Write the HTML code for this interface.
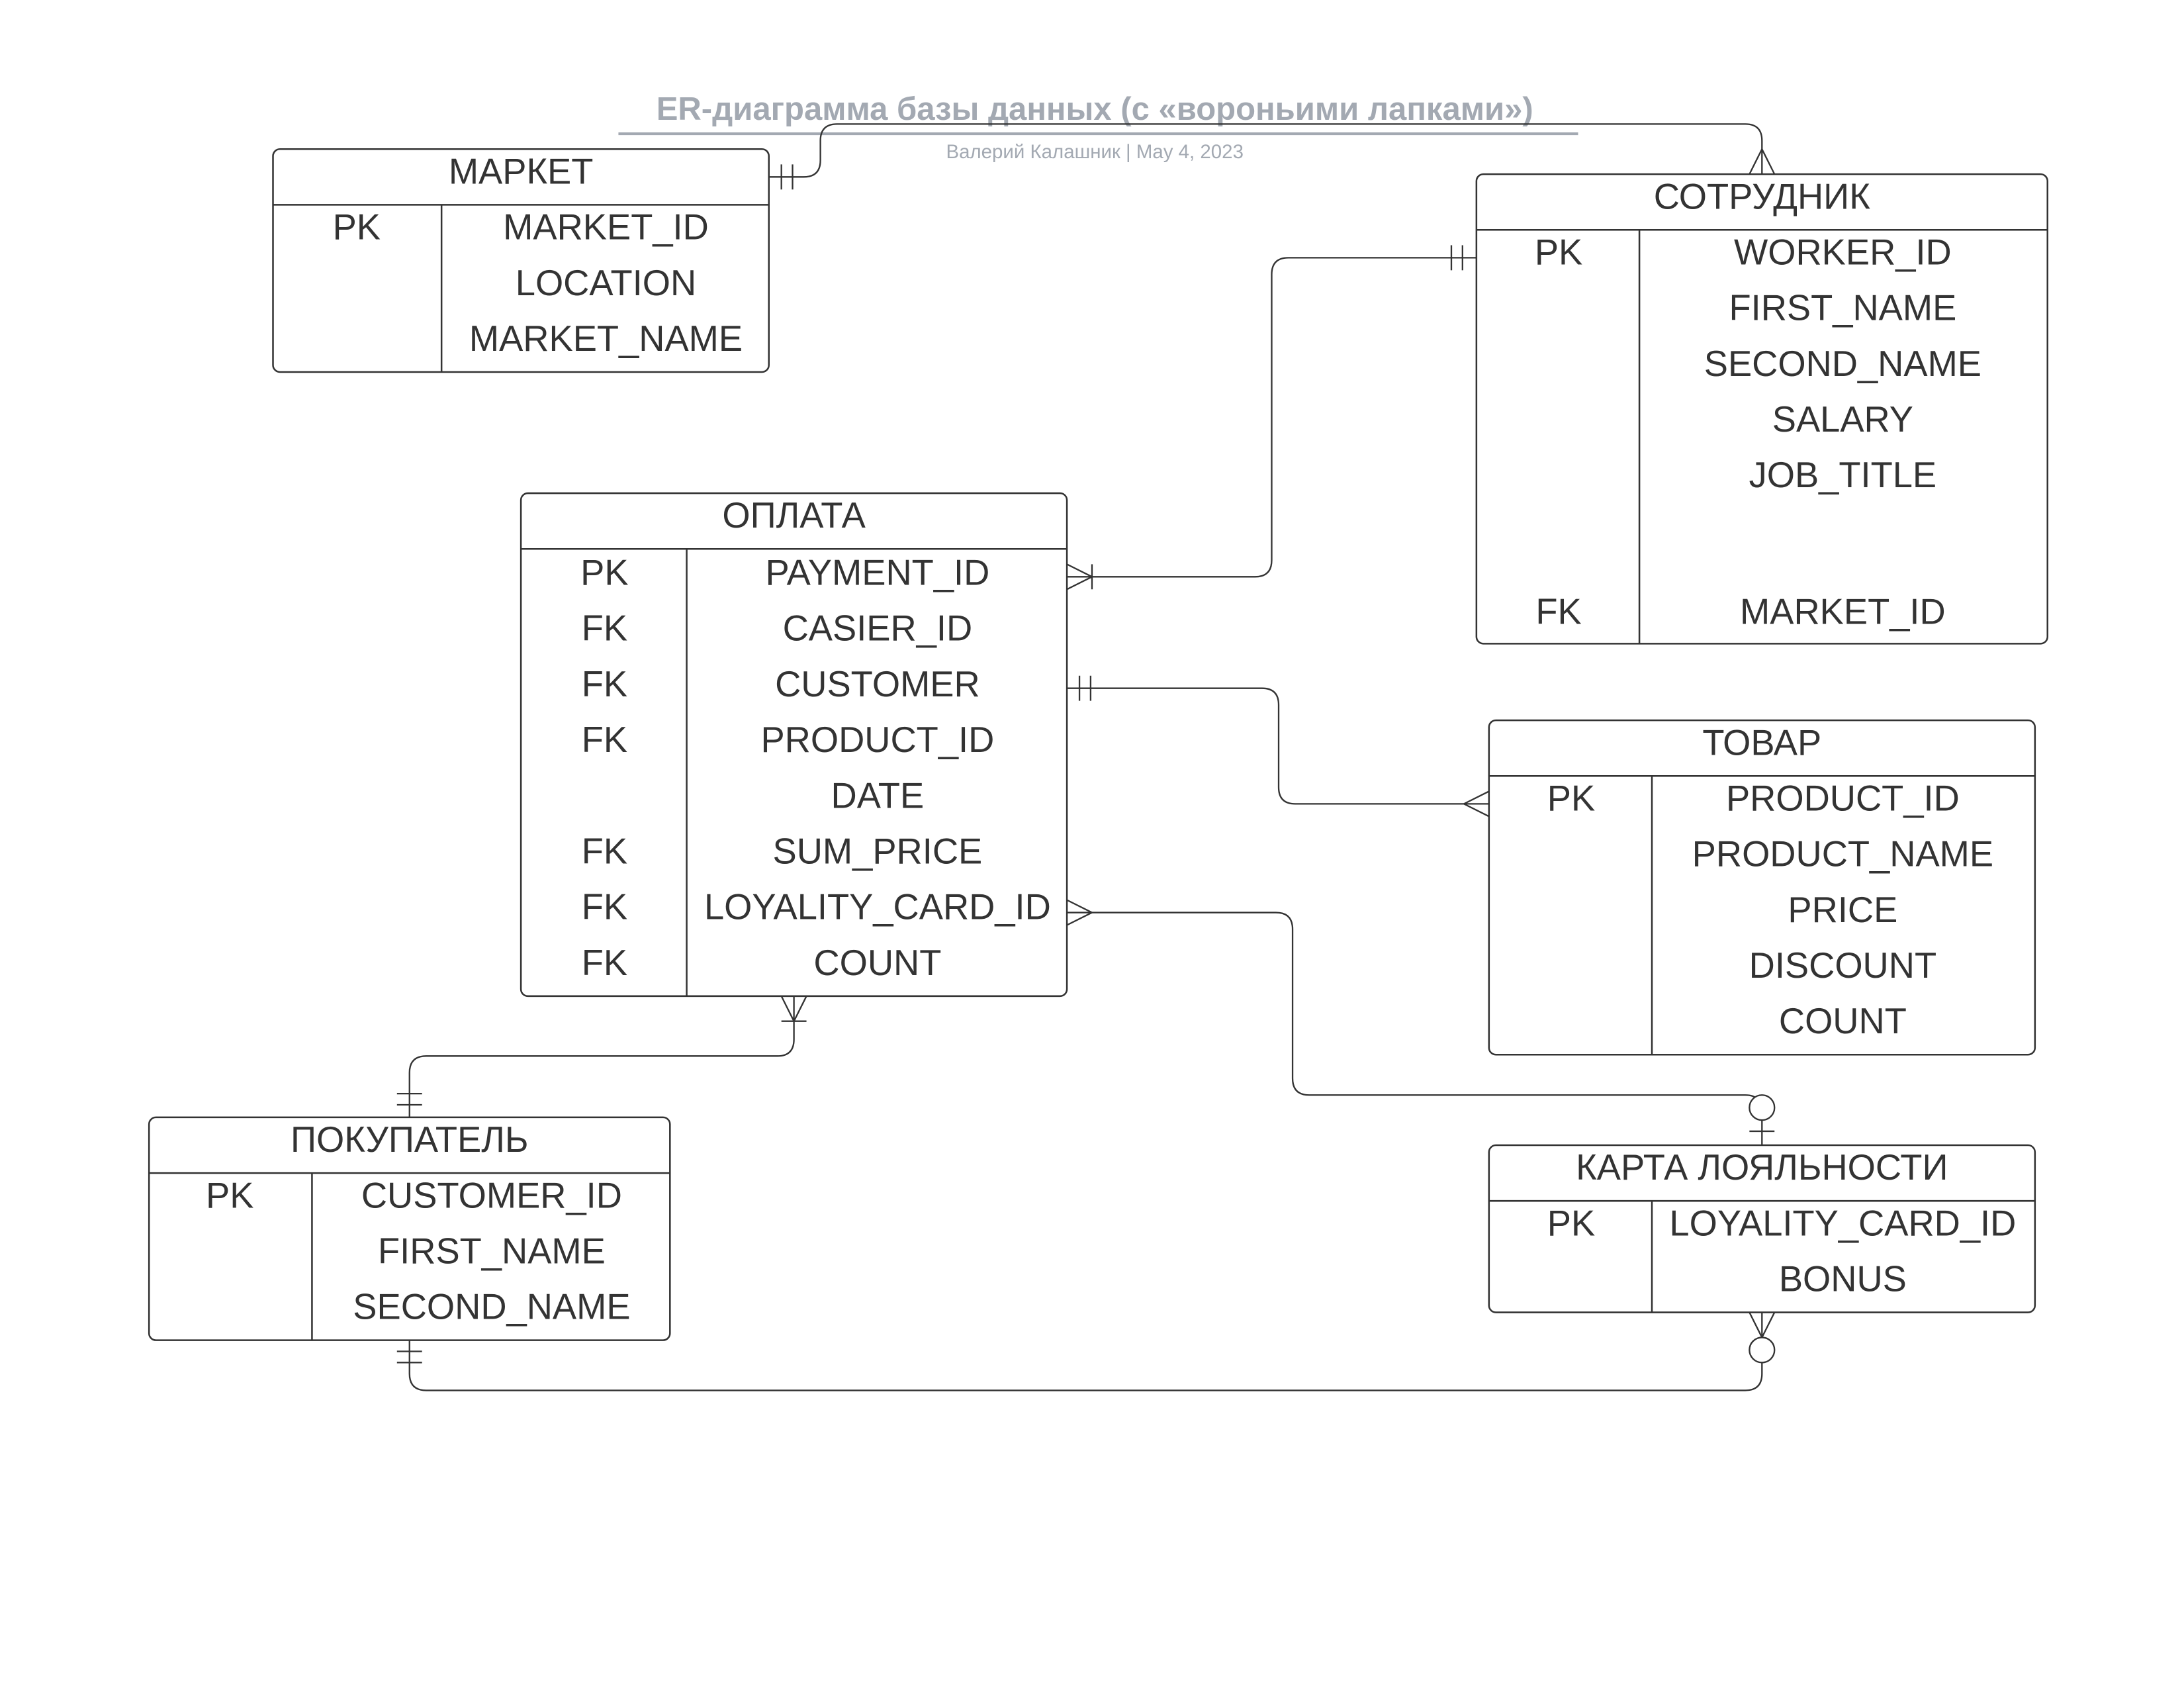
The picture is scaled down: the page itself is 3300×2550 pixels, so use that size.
<!DOCTYPE html>
<html><head><meta charset="utf-8"><style>
html,body{margin:0;padding:0;background:#fff;}
svg{display:block;}
text{font-family:"Liberation Sans","DejaVu Sans",sans-serif;}
.t{font-size:25.8px;fill:#333;text-anchor:middle;dominant-baseline:central;}
.box{fill:none;stroke:#333;stroke-width:1.2;}
.ln{fill:none;stroke:#333;stroke-width:1.1;}
</style></head><body>
<svg width="3300" height="2550" viewBox="0 0 1568 1211.6" xmlns="http://www.w3.org/2000/svg">
<rect x="0" y="0" width="1568" height="1211.6" fill="#fff"/>
<text x="786" y="78.5" font-size="23.3" font-weight="bold" fill="#a3a9b2" text-anchor="middle" dominant-baseline="central">ER-диаграмма базы данных (с «вороньими лапками»)</text>
<line x1="444" y1="96" x2="1133" y2="96" stroke="#a3a9b2" stroke-width="2"/>
<text x="786" y="109" font-size="14" fill="#a3a9b2" text-anchor="middle" dominant-baseline="central">Валерий Калашник  |  May 4, 2023</text>

<g class="ln">
<path d="M552 127 H577 Q589 127 589 115 V101 Q589 89 601 89 H1253 Q1265 89 1265 101 V125"/>
<line x1="561" y1="118" x2="561" y2="136"/><line x1="569" y1="118" x2="569" y2="136"/>
<line x1="1265" y1="107" x2="1256" y2="125"/><line x1="1265" y1="107" x2="1274" y2="125"/>

<path d="M766 414 H901 Q913 414 913 402 V197 Q913 185 925 185 H1060"/>
<line x1="1042" y1="176" x2="1042" y2="194"/><line x1="1050" y1="176" x2="1050" y2="194"/>
<line x1="784" y1="414" x2="766" y2="405"/><line x1="784" y1="414" x2="766" y2="423"/><line x1="784" y1="405" x2="784" y2="423"/>

<path d="M766 494 H906 Q918 494 918 506 V565 Q918 577 930 577 H1069"/>
<line x1="775" y1="485" x2="775" y2="503"/><line x1="783" y1="485" x2="783" y2="503"/>
<line x1="1051" y1="577" x2="1069" y2="568"/><line x1="1051" y1="577" x2="1069" y2="586"/>

<path d="M766 655 H916 Q928 655 928 667 V774 Q928 786 940 786 H1253 Q1265 786 1265 798 V822"/>
<line x1="784" y1="655" x2="766" y2="646"/><line x1="784" y1="655" x2="766" y2="664"/>
<circle cx="1265" cy="795" r="9" fill="#fff"/>
<line x1="1256" y1="812" x2="1274" y2="812"/>

<path d="M570 715 V746 Q570 758 558 758 H306 Q294 758 294 770 V802"/>
<line x1="570" y1="733" x2="561" y2="715"/><line x1="570" y1="733" x2="579" y2="715"/><line x1="561" y1="733" x2="579" y2="733"/>
<line x1="285" y1="785" x2="303" y2="785"/><line x1="285" y1="793" x2="303" y2="793"/>

<path d="M294 962 V986 Q294 998 306 998 H1253 Q1265 998 1265 986 V942"/>
<line x1="285" y1="970" x2="303" y2="970"/><line x1="285" y1="978" x2="303" y2="978"/>
<line x1="1265" y1="960" x2="1256" y2="942"/><line x1="1265" y1="960" x2="1274" y2="942"/>
<circle cx="1265" cy="969" r="9" fill="#fff"/>
</g>

<rect class="box" x="196" y="107" width="356" height="160" rx="5" fill="#fff"/>
<line class="box" x1="196" y1="147" x2="552" y2="147"/><line class="box" x1="317" y1="147" x2="317" y2="267"/>
<text class="t" x="374" y="123">МАРКЕТ</text>
<text class="t" x="256" y="163">PK</text>
<text class="t" x="435" y="163">MARKET_ID</text>
<text class="t" x="435" y="203">LOCATION</text>
<text class="t" x="435" y="243">MARKET_NAME</text>

<rect class="box" x="1060" y="125" width="410" height="337" rx="5" fill="#fff"/>
<line class="box" x1="1060" y1="165" x2="1470" y2="165"/><line class="box" x1="1177" y1="165" x2="1177" y2="462"/>
<text class="t" x="1265" y="141">СОТРУДНИК</text>
<text class="t" x="1119" y="181">PK</text>
<text class="t" x="1323" y="181">WORKER_ID</text>
<text class="t" x="1323" y="221">FIRST_NAME</text>
<text class="t" x="1323" y="261">SECOND_NAME</text>
<text class="t" x="1323" y="301">SALARY</text>
<text class="t" x="1323" y="341">JOB_TITLE</text>
<text class="t" x="1119" y="439">FK</text>
<text class="t" x="1323" y="439">MARKET_ID</text>

<rect class="box" x="374" y="354" width="392" height="361" rx="5" fill="#fff"/>
<line class="box" x1="374" y1="394" x2="766" y2="394"/><line class="box" x1="493" y1="394" x2="493" y2="715"/>
<text class="t" x="570" y="370">ОПЛАТА</text>
<text class="t" x="434" y="411">PK</text><text class="t" x="630" y="411">PAYMENT_ID</text>
<text class="t" x="434" y="451">FK</text><text class="t" x="630" y="451">CASIER_ID</text>
<text class="t" x="434" y="491">FK</text><text class="t" x="630" y="491">CUSTOMER</text>
<text class="t" x="434" y="531">FK</text><text class="t" x="630" y="531">PRODUCT_ID</text>
<text class="t" x="630" y="571">DATE</text>
<text class="t" x="434" y="611">FK</text><text class="t" x="630" y="611">SUM_PRICE</text>
<text class="t" x="434" y="651">FK</text><text class="t" x="630" y="651">LOYALITY_CARD_ID</text>
<text class="t" x="434" y="691">FK</text><text class="t" x="630" y="691">COUNT</text>

<rect class="box" x="1069" y="517" width="392" height="240" rx="5" fill="#fff"/>
<line class="box" x1="1069" y1="557" x2="1461" y2="557"/><line class="box" x1="1186" y1="557" x2="1186" y2="757"/>
<text class="t" x="1265" y="533">ТОВАР</text>
<text class="t" x="1128" y="573">PK</text>
<text class="t" x="1323" y="573">PRODUCT_ID</text>
<text class="t" x="1323" y="613">PRODUCT_NAME</text>
<text class="t" x="1323" y="653">PRICE</text>
<text class="t" x="1323" y="693">DISCOUNT</text>
<text class="t" x="1323" y="733">COUNT</text>

<rect class="box" x="107" y="802" width="374" height="160" rx="5" fill="#fff"/>
<line class="box" x1="107" y1="842" x2="481" y2="842"/><line class="box" x1="224" y1="842" x2="224" y2="962"/>
<text class="t" x="294" y="818">ПОКУПАТЕЛЬ</text>
<text class="t" x="165" y="858">PK</text>
<text class="t" x="353" y="858">CUSTOMER_ID</text>
<text class="t" x="353" y="898">FIRST_NAME</text>
<text class="t" x="353" y="938">SECOND_NAME</text>

<rect class="box" x="1069" y="822" width="392" height="120" rx="5" fill="#fff"/>
<line class="box" x1="1069" y1="862" x2="1461" y2="862"/><line class="box" x1="1186" y1="862" x2="1186" y2="942"/>
<text class="t" x="1265" y="838">КАРТА ЛОЯЛЬНОСТИ</text>
<text class="t" x="1128" y="878">PK</text>
<text class="t" x="1323" y="878">LOYALITY_CARD_ID</text>
<text class="t" x="1323" y="918">BONUS</text>
</svg>
</body></html>
